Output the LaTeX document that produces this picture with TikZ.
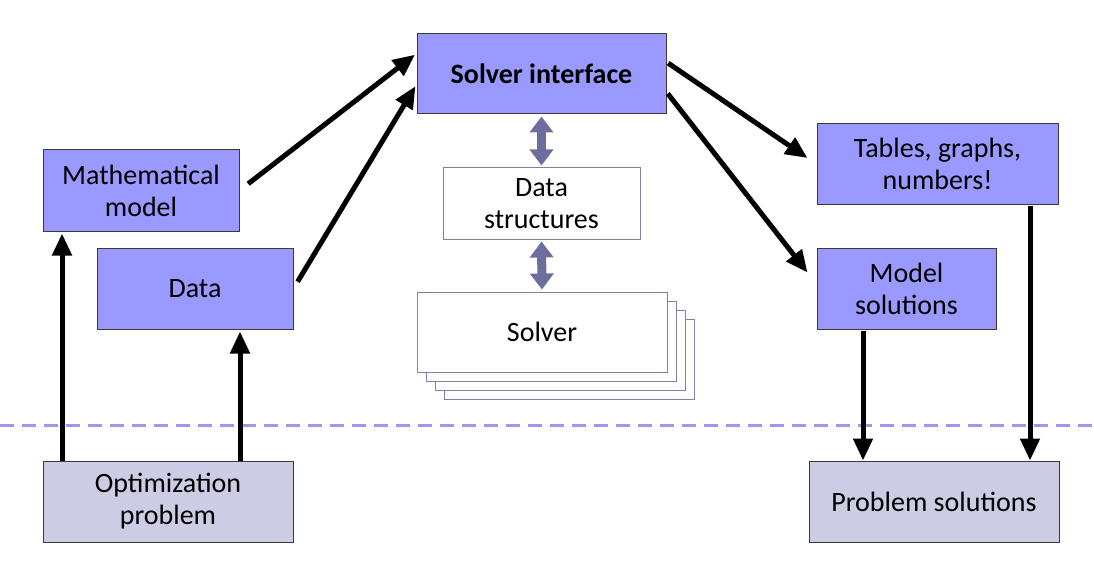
\documentclass[tikz,border=0pt]{standalone}
\usepackage{fontspec}
\setmainfont{Carlito}
\usetikzlibrary{arrows.meta,positioning,calc}
\definecolor{boxblue}{HTML}{9999FF}
\definecolor{boxgray}{HTML}{CCCCE5}
\definecolor{edgegray}{HTML}{3A3A3A}
\definecolor{dsedge}{HTML}{8080A8}
\definecolor{dblarrow}{HTML}{6E6E9E}
\definecolor{dashblue}{HTML}{9999EE}
\tikzset{
  bluebox/.style={draw=edgegray, line width=1pt, fill=boxblue, align=center, inner sep=0pt,
    font=\fontsize{28}{32}\selectfont},
  graybox/.style={draw=edgegray, line width=1pt, fill=boxgray, align=center, inner sep=0pt,
    font=\fontsize{28}{32}\selectfont},
  whitebox/.style={draw=dsedge, line width=1pt, fill=white, align=center, inner sep=0pt,
    font=\fontsize{28}{32}\selectfont},
  arr/.style={line width=5pt, -{Triangle[length=22pt,width=19pt]}},
  dbl/.style={draw=dblarrow, line width=9pt, {Triangle[length=16pt,width=23pt]}-{Triangle[length=16pt,width=23pt]}},
  sep/.style={draw=dashblue, line width=3pt, dash pattern=on 14pt off 8pt}
}
\begin{document}
\begin{tikzpicture}[x=1pt,y=-1pt]
\useasboundingbox (0,0) rectangle (1094,564);
% separator
\draw[sep] (0,425) -- (1094,425);
% nodes
\node[bluebox, minimum width=249pt, minimum height=80pt, font=\fontsize{28}{32}\selectfont\bfseries] (si) at (541.5,74) {Solver interface};
\node[whitebox, minimum width=197pt, minimum height=71pt] (ds) at (541.5,203.5) {Data\\structures};
\node[whitebox, minimum width=250pt, minimum height=80pt] (sv3) at (569,359) {};
\node[whitebox, minimum width=250pt, minimum height=80pt] (sv2) at (560,350) {};
\node[whitebox, minimum width=250pt, minimum height=80pt] (sv1) at (551,341) {};
\node[whitebox, minimum width=250pt, minimum height=80pt] (sv) at (542,332) {Solver};
\node[bluebox, minimum width=196pt, minimum height=81pt] (math) at (141,190.5) {Mathematical\\model};
\node[bluebox, minimum width=196pt, minimum height=81pt] (data) at (195,288.5) {Data};
\node[bluebox, minimum width=241pt, minimum height=80pt] (tab) at (937.5,164) {Tables, graphs,\\numbers!};
\node[bluebox, minimum width=179pt, minimum height=81pt] (ms) at (906.5,288.5) {Model\\solutions};
\node[graybox, minimum width=250pt, minimum height=81pt] (opt) at (168,501.5) {Optimization\\problem};
\node[graybox, minimum width=250pt, minimum height=81pt] (ps) at (934,501.5) {Problem solutions};
% double arrows
\draw[dbl, shorten <=2pt, shorten >=2pt] (si.south) -- (ds.north);
\draw[dbl, shorten <=2pt, shorten >=2pt] (ds.south) -- (sv.north);
% arrows to solver interface
\draw[arr, shorten <=11pt, shorten >=2pt] (math.east) -- ([yshift=-20pt]si.north west);
\draw[arr, shorten <=8pt, shorten >=2pt] (data.east) -- ([yshift=-51pt]si.north west);
% arrows from solver interface
\draw[arr, shorten <=2pt] ([yshift=12pt]si.east) -- ([xshift=-9pt,yshift=6pt]tab.west);
\draw[arr, shorten <=2pt] ([yshift=-18pt]si.east) -- ([xshift=-9pt,yshift=16pt]ms.west);
% vertical arrows
\draw[arr, shorten >=2pt] ([xshift=-106pt]opt.north) coordinate (o1) -- (o1 |- math.south);
\draw[arr, shorten >=2pt] ([xshift=72pt]opt.north) coordinate (o2) -- (o2 |- data.south);
\draw[arr, shorten <=1pt] ([xshift=-43.5pt]ms.south) coordinate (m1) -- (m1 |- ps.north);
\draw[arr, shorten <=1pt] ([xshift=92.5pt]tab.south) coordinate (t1) -- (t1 |- ps.north);
\end{tikzpicture}
\end{document}
